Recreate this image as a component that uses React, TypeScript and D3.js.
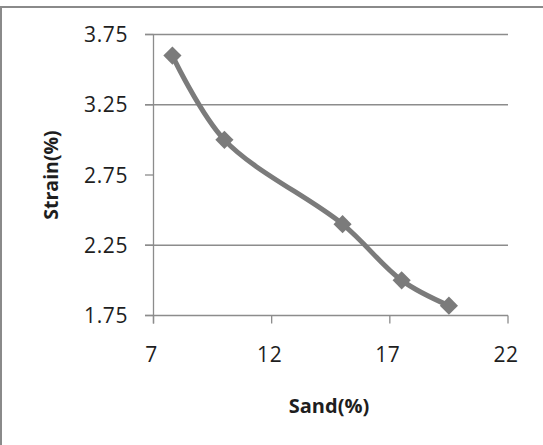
import React from "react";
import * as d3 from "d3";

const sand = [7.8, 10, 15, 17.5, 19.5];
const strain = [3.6, 3.0, 2.4, 2.0, 1.82];
const xTicks = [7, 12, 17, 22];
const yTicks = [1.75, 2.25, 2.75, 3.25, 3.75];
const yGrid = [2.25, 3.25, 3.75];

const W = 543;
const H = 445;

export default function App() {
  const x = d3.scaleLinear().domain([7, 22]).range([153.5, 508]);
  const y = d3.scaleLinear().domain([1.75, 3.75]).range([315.5, 34.5]);
  const pts: [number, number][] = sand.map((s, i) => [x(s), y(strain[i])]);
  const line = d3.line().curve(d3.curveCatmullRom.alpha(0.5))(pts) || "";
  const marker = d3.symbol().type(d3.symbolSquare).size(165)() || "";
  const gray = "#7b7b7b";
  const gridC = "#8c8c8c";
  const font = "'Open Sans', 'Noto Sans', sans-serif";
  return (
    <svg width={W} height={H} style={{ position: "absolute", left: 0, top: 0, background: "#fff" }}>
      <rect x={0} y={0} width={W} height={H} fill="#fff" />
      <line x1={0} x2={W} y1={7} y2={7} stroke="#8a8a8a" strokeWidth={2} />
      <line x1={1} x2={1} y1={6} y2={H} stroke="#8a8a8a" strokeWidth={2} />
      {yGrid.map((v) => (
        <line key={"g" + v} x1={145} x2={508} y1={y(v)} y2={y(v)} stroke={gridC} strokeWidth={1.3} />
      ))}
      {yTicks.map((v) => (
        <line key={"yt" + v} x1={145} x2={153.5} y1={y(v)} y2={y(v)} stroke={gridC} strokeWidth={1.3} />
      ))}
      <line x1={145} x2={508} y1={y(1.75)} y2={y(1.75)} stroke={gridC} strokeWidth={1.3} />
      <line x1={x(7)} x2={x(7)} y1={y(3.75)} y2={y(1.75) + 8} stroke={gridC} strokeWidth={1.3} />
      {xTicks.map((v) => (
        <line key={"xt" + v} x1={x(v)} x2={x(v)} y1={y(1.75)} y2={y(1.75) + 8} stroke={gridC} strokeWidth={1.3} />
      ))}
      {yTicks.map((v) => (
        <text key={"yl" + v} x={128} y={y(v) + 7.5} textAnchor="end" fontFamily={font} fontSize={21} fill="#1e1e1e" letterSpacing={0.6}>
          {v.toFixed(2)}
        </text>
      ))}
      {xTicks.map((v) => (
        <text key={"xl" + v} x={x(v) - 2} y={362} textAnchor="middle" fontFamily={font} fontSize={21} fill="#1e1e1e" letterSpacing={0.6}>
          {v}
        </text>
      ))}
      <text x={329} y={413} textAnchor="middle" fontFamily={font} fontSize={20} fontWeight="bold" fill="#1e1e1e">
        Sand(%)
      </text>
      <text transform={`translate(58,175) rotate(-90)`} textAnchor="middle" fontFamily={font} fontSize={19.5} fontWeight="bold" fill="#1e1e1e">
        Strain(%)
      </text>
      <path d={line} fill="none" stroke={gray} strokeWidth={5} strokeLinejoin="round" />
      {pts.map(([px, py], i) => (
        <path key={"m" + i} d={marker} transform={`translate(${px},${py}) rotate(45)`} fill={gray} />
      ))}
    </svg>
  );
}
